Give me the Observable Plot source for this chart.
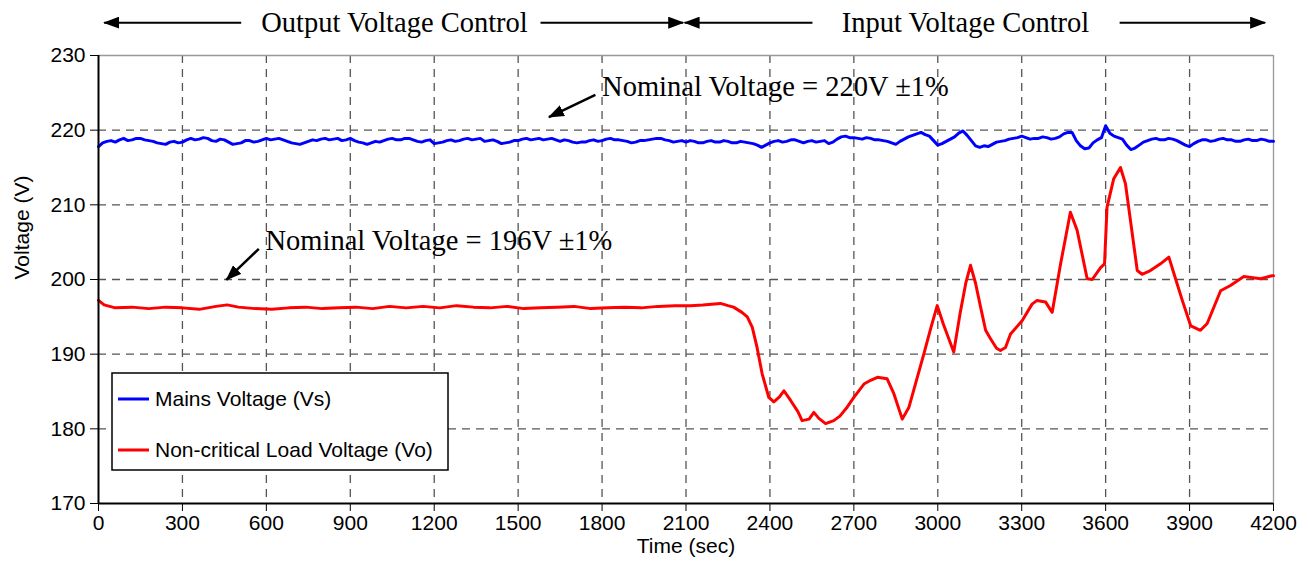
<!DOCTYPE html>
<html><head><meta charset="utf-8">
<script src="https://cdn.jsdelivr.net/npm/d3@7"></script>
<script src="https://cdn.jsdelivr.net/npm/@observablehq/plot@0.6"></script>
<style>
html,body{margin:0;padding:0;background:#fff;}
#chart{width:1308px;height:569px;}
</style></head><body><div id="chart"></div>
<script>
// Mains voltage (Vs), sampled every 15 s from 0 to 4200 s
const mainsStep = 15;
const mainsVolt = [
 217.8,218.3,218.5,218.6,218.4,218.7,218.9,218.6,218.7,218.9,218.9,218.7,218.6,218.5,218.3,218.2,218.1,218.4,218.5,218.3,
 218.4,218.7,218.9,218.7,218.8,219.0,218.9,218.6,218.5,218.8,218.7,218.4,218.1,218.2,218.3,218.6,218.6,218.4,218.5,218.7,
 218.9,218.7,218.8,218.9,218.7,218.5,218.3,218.2,218.1,218.3,218.5,218.7,218.6,218.8,218.9,218.7,218.8,218.9,218.6,218.7,
 218.9,218.6,218.4,218.3,218.1,218.3,218.5,218.4,218.6,218.8,218.9,218.7,218.7,218.9,218.9,218.7,218.5,218.4,218.6,218.7,
 218.2,218.3,218.4,218.6,218.7,218.5,218.6,218.8,218.9,218.7,218.8,218.9,218.5,218.6,218.7,218.5,218.2,218.3,218.4,218.6,
 218.6,218.8,218.9,218.7,218.8,218.9,218.7,218.8,218.9,218.7,218.5,218.7,218.6,218.4,218.3,218.4,218.4,218.6,218.7,218.5,
 218.6,218.8,218.9,218.7,218.7,218.6,218.5,218.3,218.4,218.6,218.6,218.7,218.8,218.9,218.9,218.7,218.6,218.4,218.5,218.6,
 218.4,218.6,218.5,218.3,218.3,218.5,218.6,218.4,218.4,218.6,218.5,218.3,218.3,218.5,218.4,218.3,218.2,218.0,217.7,218.0,
 218.3,218.5,218.6,218.4,218.5,218.7,218.7,218.5,218.3,218.5,218.6,218.4,218.5,218.6,218.2,218.4,218.8,219.1,219.2,219.0,
 219.0,218.9,218.8,219.0,218.9,218.7,218.7,218.6,218.5,218.3,218.1,218.5,218.8,219.1,219.3,219.5,219.7,219.4,219.2,218.6,
 218.0,218.2,218.5,218.8,219.1,219.6,219.9,219.3,218.6,217.9,217.7,217.9,217.8,218.1,218.4,218.5,218.6,218.8,218.9,219.0,
 219.2,219.0,218.8,218.9,218.9,219.1,219.0,218.8,218.9,219.1,219.5,219.7,219.7,218.6,217.9,217.5,217.6,218.3,218.7,219.0,
 220.6,219.6,219.2,219.0,218.8,218.0,217.4,217.6,218.0,218.4,218.6,218.8,218.9,218.7,218.7,218.9,218.8,218.6,218.3,218.0,
 217.8,218.2,218.5,218.7,218.7,218.5,218.6,218.8,218.9,218.7,218.7,218.5,218.5,218.7,218.8,218.6,218.6,218.8,218.7,218.5,
 218.5
];
// Non-critical load voltage (Vo)
const loadTime = [
 0,20,60,120,180,240,300,360,420,460,500,560,620,680,740,800,860,920,980,1040,
 1100,1160,1220,1280,1340,1400,1460,1520,1580,1640,1700,1760,1820,1880,1940,2000,2060,2116,2160,2223,
 2250,2270,2300,2319,2337,2354,2372,2396,2414,2435,2450,2474,2500,2515,2540,2557,2575,2599,2628,2650,
 2676,2700,2736,2760,2784,2819,2843,2873,2897,2920,2950,2975,2998,3020,3057,3080,3100,3117,3135,3153,
 3171,3188,3210,3224,3242,3260,3302,3337,3355,3385,3409,3439,3474,3498,3534,3552,3582,3596,3605,3629,
 3653,3671,3713,3730,3760,3796,3826,3844,3874,3904,3939,3963,4011,4046,4094,4154,4195,4200
];
const loadVolt = [
 197.2,196.6,196.2,196.3,196.1,196.3,196.2,196.0,196.4,196.6,196.3,196.1,196.0,196.2,196.3,196.1,196.2,196.3,196.1,196.4,
 196.2,196.4,196.2,196.5,196.3,196.2,196.4,196.1,196.2,196.3,196.4,196.1,196.2,196.3,196.2,196.4,196.5,196.5,196.6,196.8,
 196.5,196.3,195.6,195.0,193.6,190.9,187.4,184.2,183.6,184.3,185.1,183.8,182.3,181.1,181.3,182.2,181.4,180.7,181.1,181.7,
 182.9,184.2,186.0,186.5,186.9,186.7,184.7,181.3,182.9,186.0,190.0,193.5,196.5,194.0,190.3,195.5,199.5,201.9,199.5,196.3,
 193.2,192.1,190.8,190.5,190.9,192.7,194.5,196.7,197.2,197.0,195.6,202.1,209.0,206.6,200.1,200.0,201.6,202.1,209.7,213.5,
 215.0,212.8,201.2,200.7,201.2,202.1,203.0,200.8,197.2,193.8,193.2,194.1,198.5,199.2,200.4,200.1,200.5,200.5
];
const xTicks = [0,300,600,900,1200,1500,1800,2100,2400,2700,3000,3300,3600,3900,4200];
const yTicks = [170,180,190,200,210,220,230];
const seriesNames = ["Mains Voltage (Vs)", "Non-critical Load Voltage (Vo)"];
const seriesColors = ["#0000ff", "#ff0000"];
const xLabel = "Time (sec)";
const yLabel = "Voltage (V)";
// header (above the frame), in data units
const headerLabels = ["Output Voltage Control", "Input Voltage Control"];
const headerLabelX = [1058, 3099];
const headerY = 234.4;
const headerArrowFrom = [510, 1580, 2552, 3650];
const headerArrowTo = [20, 2090, 2095, 4170];
// annotations
const noteLabels = ["Nominal Voltage = 220V \u00b11%", "Nominal Voltage = 196V \u00b11%"];
const noteX = [1800, 597];
const noteY = [224.55, 203.98];
const noteArrowX1 = [1776, 573];
const noteArrowY1 = [224.74, 204.1];
const noteArrowX2 = [1610, 457];
const noteArrowY2 = [221.74, 199.96];

const mainsRows = mainsVolt.map((v, i) => ({t: i * mainsStep, v}));
const loadRows = loadTime.map((t, i) => ({t, v: loadVolt[i]}));
const headerRows = headerLabels.map((label, i) => ({label, x: headerLabelX[i], y: headerY}));
const headerArrows = headerArrowFrom.map((x1, i) => ({x1, x2: headerArrowTo[i], y: headerY}));
const noteRows = noteLabels.map((label, i) => ({label, x: noteX[i], y: noteY[i]}));
const noteArrows = noteArrowX1.map((x1, i) => ({x1, y1: noteArrowY1[i], x2: noteArrowX2[i], y2: noteArrowY2[i]}));

const serif = "'Liberation Serif', 'Times New Roman', serif";
const sans = "'Liberation Sans', Arial, sans-serif";

const plot = Plot.plot({
  width: 1308, height: 569,
  marginLeft: 98, marginRight: 35, marginTop: 55, marginBottom: 66,
  style: {fontSize: "21px", fontFamily: sans, color: "#000", background: "#fff", overflow: "visible"},
  x: {domain: [0, 4200], ticks: xTicks, tickSize: 8, tickPadding: 4, tickFormat: d => `${d}`, label: null},
  y: {domain: [170, 230], ticks: yTicks, tickSize: 8, tickPadding: 5, tickFormat: d => `${d}`, label: null},
  marks: [
    Plot.ruleX(xTicks.slice(1, -1), {stroke: "#555", strokeWidth: 1.3, strokeDasharray: "8,6"}),
    Plot.ruleY(yTicks.slice(1, -1), {stroke: "#555", strokeWidth: 1.3, strokeDasharray: "8,6"}),
    Plot.ruleY([230], {stroke: "#999", strokeWidth: 1.3}),
    Plot.ruleX([4200], {stroke: "#999", strokeWidth: 1.3}),
    Plot.line(mainsRows, {x: "t", y: "v", stroke: seriesColors[0], strokeWidth: 3}),
    Plot.line(loadRows, {x: "t", y: "v", stroke: seriesColors[1], strokeWidth: 3}),
    Plot.ruleX([0], {stroke: "#000", strokeWidth: 2}),
    Plot.ruleY([170], {stroke: "#000", strokeWidth: 2}),
    Plot.text([yLabel], {frameAnchor: "left", rotate: -90, dx: -76, fontSize: 21, fontFamily: sans}),
    Plot.text([xLabel], {frameAnchor: "bottom", dy: 49, fontSize: 21, fontFamily: sans}),
    Plot.text(headerRows, {x: "x", y: "y", text: "label", fontSize: 28.5, fontFamily: serif}),
    Plot.link(headerArrows, {x1: "x1", x2: "x2", y1: "y", y2: "y", stroke: "#000", strokeWidth: 2}),
    Plot.text(noteRows, {x: "x", y: "y", text: "label", textAnchor: "start", lineAnchor: "bottom", fontSize: 28.5, fontFamily: serif}),
    Plot.link(noteArrows, {x1: "x1", y1: "y1", x2: "x2", y2: "y2", stroke: "#000", strokeWidth: 2.5})
  ]
});

const svg = d3.select(plot);
const defs = svg.append("defs");
defs.append("marker")
  .attr("id", "ahead").attr("viewBox", "0 0 16 12").attr("refX", 15).attr("refY", 6)
  .attr("markerWidth", 16).attr("markerHeight", 12).attr("markerUnits", "userSpaceOnUse")
  .attr("orient", "auto")
  .append("path").attr("d", "M0,0L16,6L0,12Z").attr("fill", "#000");
svg.selectAll('g[aria-label="link"] path').attr("marker-end", "url(#ahead)");

// legend box, placed relative to the frame
const sx = plot.scale("x"), sy = plot.scale("y");
const lx = sx.apply(0) + 14, ly = sy.apply(170) - 130;
const lg = svg.append("g").attr("text-anchor", "start");
lg.append("rect").attr("x", lx).attr("y", ly).attr("width", 336).attr("height", 97)
  .attr("fill", "#fff").attr("stroke", "#000").attr("stroke-width", 1.5);
seriesNames.forEach((name, i) => {
  const yy = ly + 26 + i * 51;
  lg.append("line").attr("x1", lx + 6).attr("x2", lx + 37).attr("y1", yy).attr("y2", yy)
    .attr("stroke", seriesColors[i]).attr("stroke-width", 3);
  lg.append("text").attr("x", lx + 43).attr("y", yy).attr("dy", "0.35em").attr("text-anchor", "start")
    .attr("font-size", 21).attr("font-family", sans).attr("fill", "#000").text(name);
});

document.getElementById("chart").appendChild(plot);
</script></body></html>
